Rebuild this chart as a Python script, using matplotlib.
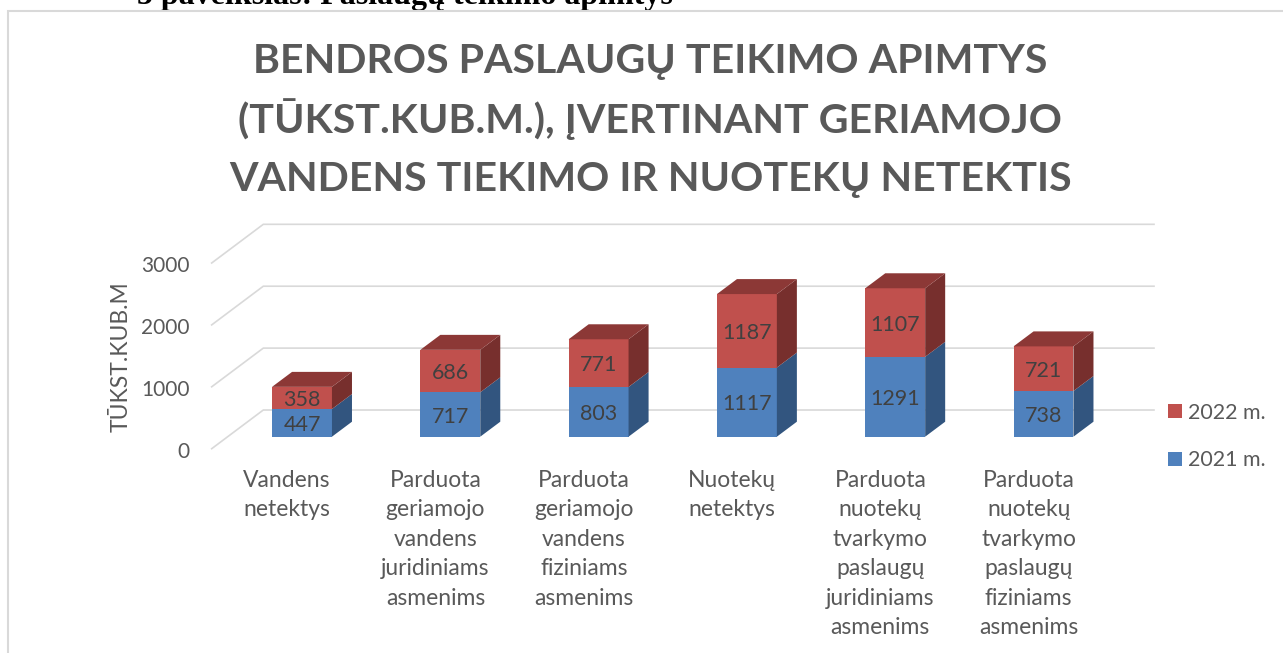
import matplotlib
matplotlib.use("Agg")
import matplotlib.pyplot as plt
from matplotlib.patches import Patch, Rectangle
import numpy as np

categories = ["Vandens\nnetektys",
              "Parduota\ngeriamojo\nvandens\njuridiniams\nasmenims",
              "Parduota\ngeriamojo\nvandens\nfiziniams\nasmenims",
              "Nuotekų\nnetektys",
              "Parduota\nnuotekų\ntvarkymo\npaslaugų\njuridiniams\nasmenims",
              "Parduota\nnuotekų\ntvarkymo\npaslaugų\nfiziniams\nasmenims"]
values_2021 = [447, 717, 803, 1117, 1291, 738]
values_2022 = [358, 686, 771, 1187, 1107, 721]
yticks = [0, 1000, 2000, 3000]
title_lines = ["BENDROS PASLAUGŲ TEIKIMO APIMTYS",
               "(TŪKST.KUB.M.), ĮVERTINANT GERIAMOJO",
               "VANDENS TIEKIMO IR NUOTEKŲ NETEKTIS"]
caption = "5 paveikslas: Paslaugų teikimo apimtys"

W, H = 1283, 653
X0, XSTEP = 302, 148.3    # pixel of first category, pixels per category
Y0, YSCALE = 448.7, 0.0619  # pixel of value 0, pixels per unit

GRID = "#D9D9D9"
TXT = "#595959"
LBL = "#404040"
BLUE, BLUE_SIDE = "#4F81BD", "#32557F"
RED, RED_TOP, RED_SIDE = "#C0504D", "#8C3836", "#772F2D"

plt.rcParams["font.family"] = ["Lato", "DejaVu Sans"]

def px(x, y):
    return x / W, 1 - y / H

fig = plt.figure(figsize=(W / 100, H / 100), dpi=100)
fig.text(*px(137, 4), caption, family="Liberation Serif", weight="bold",
         fontsize=23, color="black", ha="left", va="baseline", zorder=0)

ax = fig.add_axes([0, 0, 1, 1], zorder=1)
ax.set_xlim(-X0 / XSTEP, (W - X0) / XSTEP)
ax.set_ylim((Y0 - H) / YSCALE, Y0 / YSCALE)
ax.axis("off")

# chart frame, runs off the right and bottom edge
ax.add_patch(Rectangle(px(7.7, 11), 1.1, -1.1, transform=fig.transFigure,
                       facecolor="white", edgecolor=GRID, lw=1.5, zorder=0))

# walls and gridlines
wall_dx, wall_dy = 0.348, 625
grid_left, grid_right = -0.609, 5.745
for t in yticks:
    ax.plot([grid_left, grid_left + wall_dx, grid_right], [t, t + wall_dy, t + wall_dy],
            color=GRID, lw=1.2, zorder=1, solid_joinstyle="miter")
    ax.text(-0.757, t - 20, str(t), color=TXT, fontsize=15, ha="right", va="center_baseline")

# stacked bars with fake depth
x = np.arange(len(categories))
v21 = np.array(values_2021)
v22 = np.array(values_2022)
floor = 194
width = 0.404
depth_dx, depth_dy = 0.135, 242

ax.bar(x, v21, width, bottom=floor, color=BLUE, zorder=3)
ax.bar(x, v22, width, bottom=floor + v21, color=RED, zorder=3)
for i in x:
    r = i + width / 2
    l = i - width / 2
    b0, b1, b2 = floor, floor + v21[i], floor + v21[i] + v22[i]
    ax.fill([r, r + depth_dx, r + depth_dx, r], [b0, b0 + depth_dy, b1 + depth_dy, b1],
            color=BLUE_SIDE, lw=0, zorder=3)
    ax.fill([r, r + depth_dx, r + depth_dx, r], [b1, b1 + depth_dy, b2 + depth_dy, b2],
            color=RED_SIDE, lw=0, zorder=3)
    ax.fill([l, r, r + depth_dx, l + depth_dx], [b2, b2, b2 + depth_dy, b2 + depth_dy],
            color=RED_TOP, lw=0, zorder=3)
    ax.text(i, b0 + v21[i] / 2, str(v21[i]), color=LBL, fontsize=15.5,
            ha="center", va="center_baseline", zorder=4)
    ax.text(i, b1 + v22[i] / 2, str(v22[i]), color=LBL, fontsize=15.5,
            ha="center", va="center_baseline", zorder=4)
    ax.text(i - 0.1, -340, categories[i], color=TXT, fontsize=16.5, ha="center", va="top",
            linespacing=1.5)

for line, base in zip(title_lines, [73, 133, 191]):
    fig.text(*px(650.5, base), line, color=TXT, weight="bold", fontsize=29.6, ha="center",
             va="baseline", zorder=5)
fig.text(*px(121, 357), "TŪKST.KUB.M", color=TXT, fontsize=16.5, rotation=90,
         ha="center", va="center", zorder=5)

handles = [Patch(facecolor=RED, label="2022 m."), Patch(facecolor=BLUE, label="2021 m.")]
ax.legend(handles=handles, loc="center left", bbox_to_anchor=px(1168, 436.5),
          bbox_transform=fig.transFigure, frameon=False, fontsize=15.4, labelcolor=TXT,
          handlelength=0.65, handleheight=0.65, handletextpad=0.3, labelspacing=1.285,
          borderpad=0, borderaxespad=0)

fig.savefig("out.png", dpi=100)
